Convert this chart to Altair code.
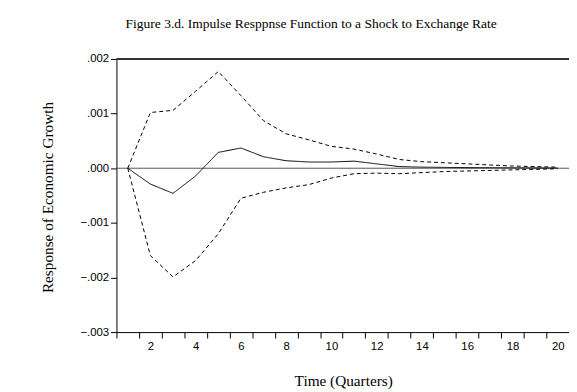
import altair as alt
import pandas as pd

periods = list(range(1, 21))
response = [0.0, -0.00029, -0.00046, -0.00014, 0.00029, 0.00037, 0.00021, 0.000137, 0.000114, 0.000114,
            0.00013, 0.00008, 0.00003, 0.00002, 0.000015, 0.00001, 0.00001, 0.000008, 0.000005, 0.000004]
upper = [0.0, 0.00102, 0.00106, 0.00141, 0.00177, 0.00133, 0.00087, 0.00063, 0.00052, 0.00040,
         0.00035, 0.00026, 0.00016, 0.00012, 0.00010, 0.00008, 0.00006, 0.00004, 0.00003, 0.00002]
lower = [0.0, -0.00160, -0.00199, -0.00169, -0.00120, -0.00055, -0.00044, -0.00036, -0.00030, -0.00018,
         -0.00010, -0.00009, -0.00010, -0.00008, -0.00006, -0.00005, -0.00004, -0.00003, -0.00002, -0.00001]

rows = []
for name, vals in [("Response", response), ("Upper", upper), ("Lower", lower)]:
    for p, v in zip(periods, vals):
        rows.append({"period": p, "value": v, "series": name, "band": "dash" if name != "Response" else "solid"})
df = pd.DataFrame(rows)

x_enc = alt.X("period:O",
              scale=alt.Scale(paddingInner=0, paddingOuter=0),
              axis=alt.Axis(title="Time (Quarters)", labelAngle=0, tickBand="extent",
                            labelExpr="datum.value % 2 == 0 ? datum.label : ''",
                            labelFont="Liberation Sans", labelFontSize=11.5, labelColor="black",
                            labelPadding=3, tickSize=6, tickColor="black", domainColor="black",
                            titleFont="Liberation Serif", titleFontSize=15.5, titleFontWeight="normal",
                            titleColor="black", titleBaseline="middle", titleY=49, titleX=230,
                            grid=False))
y_enc = alt.Y("value:Q",
              scale=alt.Scale(domain=[-0.003, 0.002], nice=False, zero=False),
              axis=alt.Axis(title="Response of Economic Growth", values=[-0.003, -0.002, -0.001, 0, 0.001, 0.002],
                            labelExpr="replace(format(datum.value, '.3f'), '0.', '.')",
                            labelFont="Liberation Sans", labelFontSize=11.5, labelColor="black",
                            labelPadding=2, tickSize=6, tickColor="black", domainColor="black",
                            titleFont="Liberation Serif", titleFontSize=15.5, titleFontWeight="normal",
                            titleColor="black", titleAngle=-90, titleBaseline="middle", titleAlign="center",
                            titleX=-70, titleY=140, grid=False))

lines = alt.Chart(df).mark_line(color="black", strokeWidth=1).encode(
    x=x_enc, y=y_enc,
    detail="series:N",
    strokeDash=alt.StrokeDash("band:N", scale=alt.Scale(domain=["solid", "dash"], range=[[1, 0], [4, 3]]), legend=None),
)

zero = alt.Chart(pd.DataFrame({"z": [0.0]})).mark_rule(color="#555555", strokeWidth=1).encode(y="z:Q")
top = alt.Chart(pd.DataFrame({"t": [0.002]})).mark_rule(color="#333333", strokeWidth=2).encode(y="t:Q")

chart = alt.layer(zero, lines, top).properties(
    width=459, height=277,
    title=alt.TitleParams("Figure 3.d. Impulse Resppnse Function to a Shock to Exchange Rate",
                          font="Liberation Serif", fontSize=13.7, fontWeight="normal", color="black",
                          anchor="middle", dx=-32, baseline="middle", offset=16),
    autosize=alt.AutoSizeParams(type="none"),
    padding={"left": 110, "top": 49, "right": 0, "bottom": 55},
).configure_view(stroke=None)

chart.save("out.html", embed_options={"renderer": "svg", "actions": False})
